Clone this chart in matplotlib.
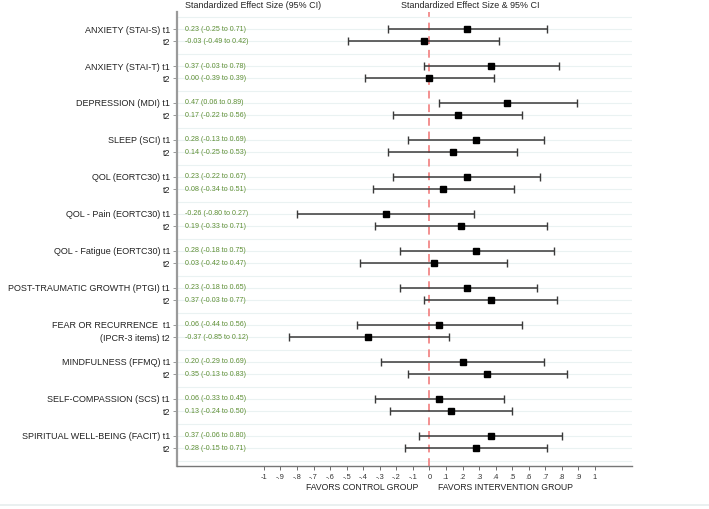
import numpy as np
import matplotlib
matplotlib.use("Agg")
import matplotlib.pyplot as plt
from matplotlib.lines import Line2D

# data
groups = ["ANXIETY (STAI-S)", "ANXIETY (STAI-T)", "DEPRESSION (MDI)", "SLEEP (SCI)",
          "QOL (EORTC30)", "QOL - Pain (EORTC30)", "QOL - Fatigue (EORTC30)",
          "POST-TRAUMATIC GROWTH (PTGI)", "FEAR OR RECURRENCE", "MINDFULNESS (FFMQ)",
          "SELF-COMPASSION (SCS)", "SPIRITUAL WELL-BEING (FACIT)"]

t1_est = [0.23, 0.37, 0.47, 0.28, 0.23, -0.26, 0.28, 0.23, 0.06, 0.20, 0.06, 0.37]
t1_lo = [-0.25, -0.03, 0.06, -0.13, -0.22, -0.80, -0.18, -0.18, -0.44, -0.29, -0.33, -0.06]
t1_hi = [0.71, 0.78, 0.89, 0.69, 0.67, 0.27, 0.75, 0.65, 0.56, 0.69, 0.45, 0.80]

t2_est = [-0.03, 0.00, 0.17, 0.14, 0.08, 0.19, 0.03, 0.37, -0.37, 0.35, 0.13, 0.28]
t2_lo = [-0.49, -0.39, -0.22, -0.25, -0.34, -0.33, -0.42, -0.03, -0.85, -0.13, -0.24, -0.15]
t2_hi = [0.42, 0.39, 0.56, 0.53, 0.51, 0.71, 0.47, 0.77, 0.12, 0.83, 0.50, 0.71]

xticks = [-1, -.9, -.8, -.7, -.6, -.5, -.4, -.3, -.2, -.1, 0, .1, .2, .3, .4, .5, .6, .7, .8, .9, 1]
xtick_labels = ["-1", "-.9", "-.8", "-.7", "-.6", "-.5", "-.4", "-.3", "-.2", "-.1", "0",
                ".1", ".2", ".3", ".4", ".5", ".6", ".7", ".8", ".9", "1"]

plt.rcParams['font.family'] = ['Liberation Sans', 'DejaVu Sans']

fig = plt.figure(figsize=(7.09, 5.09), dpi=100)
ax = fig.add_axes([177 / 709, 1 - 466 / 509, (632 - 177) / 709, (466 - 12) / 509])

n = len(groups)
y1 = np.arange(n) * 3
y2 = y1 + 1

# light horizontal grid on every slot
for s in range(-1, 3 * n):
    ax.axhline(s, color='#eaf2f2', lw=0.8, zorder=0)

ax.axvline(0, color='#f39090', lw=1.4, ls=(0, (4, 3)), zorder=1)

for ys, est, lo, hi in [(y1, t1_est, t1_lo, t1_hi), (y2, t2_est, t2_lo, t2_hi)]:
    est = np.array(est)
    lo = np.array(lo)
    hi = np.array(hi)
    ax.errorbar(est, ys, xerr=[est - lo, hi - est], fmt='none', ecolor='#3a3a3a',
                elinewidth=1.1, capsize=2.6, capthick=1.0, zorder=2)
    ax.plot(est, ys, 's', color='black', ms=4, zorder=3)
    for y, e, l, h in zip(ys, est, lo, hi):
        ax.text(0.018, y, "{:.2f} ({:.2f} to {:.2f})".format(e, l, h),
                transform=ax.get_yaxis_transform(), color='#5e8f34', fontsize=5.1,
                va='center', ha='left')

ax.set_xlim(-1.525, 1.224)
ax.set_ylim(3 * n - 1 + 0.44, -1.38)

ylabels_pos = []
ylabels = []
for i, g in enumerate(groups):
    ylabels_pos += [y1[i], y2[i]]
    if g == "FEAR OR RECURRENCE":
        ylabels += [g + "  t1", "(IPCR-3 items) t2"]
    else:
        ylabels += [g + " t1", "t2"]
ax.set_yticks(ylabels_pos)
ax.set_yticklabels(ylabels, fontsize=6.5, color='#222222')
ax.set_xticks(xticks)
ax.set_xticklabels(xtick_labels, fontsize=5.4, color='#333333')

ax.tick_params(axis='y', length=3, width=0.6, color='#888888', pad=2)
ax.tick_params(axis='x', length=3, width=0.6, color='#555555', pad=3)
for side in ['top', 'right']:
    ax.spines[side].set_visible(False)
ax.spines['left'].set_color('#9a9a9a')
ax.spines['left'].set_linewidth(1.6)
ax.spines['bottom'].set_color('#777777')
ax.spines['bottom'].set_linewidth(1.0)

fig.text(253 / 709, 1 - 6 / 509, "Standardized Effect Size (95% CI)", ha='center', va='center',
         fontsize=6.4, color='#222222')
fig.text(470 / 709, 1 - 6 / 509, "Standardized Effect Size & 95% CI", ha='center', va='center',
         fontsize=6.4, color='#222222')
fig.text(362 / 709, 1 - 488 / 509, "FAVORS CONTROL GROUP", ha='center', va='center',
         fontsize=6.2, color='#222222')
fig.text(506 / 709, 1 - 488 / 509, "FAVORS INTERVENTION GROUP", ha='center', va='center',
         fontsize=6.2, color='#222222')

fig.add_artist(Line2D([0, 1], [1 - 505 / 509, 1 - 505 / 509], transform=fig.transFigure,
                      color='#e6eeee', lw=1.2))

fig.savefig("out.png", dpi=100)
